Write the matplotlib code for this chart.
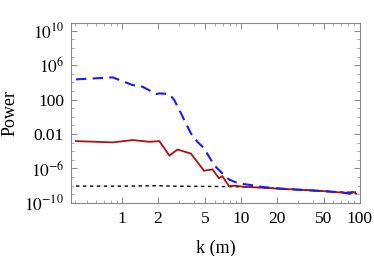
import matplotlib
matplotlib.use("Agg")
import matplotlib.pyplot as plt
import numpy as np
from matplotlib.ticker import FixedLocator, FixedFormatter, NullFormatter

# blue dashed curve
k_blue = [0.407, 0.83, 1.22, 1.48, 1.94, 2.05, 2.49, 2.74, 3.12, 3.43, 3.78,
          4.29, 4.88, 5.38, 5.92, 6.52, 7.18, 7.9, 8.9, 10.5, 12.1, 15, 20,
          30, 50, 70, 82, 87, 93]
logp_blue = [4.35, 4.58, 3.69, 3.49, 2.64, 2.72, 2.64, 1.94, 0.40, -0.77,
             -1.93, -2.91, -3.67, -4.65, -5.62, -6.20, -6.78, -7.28, -7.59,
             -7.83, -7.94, -8.15, -8.33, -8.47, -8.65, -8.80, -8.95, -8.85,
             -9.22]

# red solid curve
k_red = [0.407, 0.83, 1.22, 1.69, 2.05, 2.49, 2.92, 3.78, 4.88, 5.74, 6.52,
         6.96, 7.9, 9.0, 10.5, 15, 20, 30, 50, 70, 80, 87, 93]
logp_red = [-2.83, -2.98, -2.71, -2.91, -2.83, -4.51, -3.81, -4.28, -6.28,
            -6.12, -7.16, -6.90, -8.06, -8.02, -8.14, -8.25, -8.35, -8.48,
            -8.65, -8.82, -8.85, -8.72, -8.95]

# black dotted curve
k_black = [0.407, 1.0, 2.0, 3.0, 5.0, 8.0, 12.0, 20, 30, 50, 70, 87, 93]
logp_black = [-8.06, -8.07, -8.02, -8.08, -8.10, -8.12, -8.17, -8.33, -8.47,
              -8.65, -8.76, -8.80, -8.76]

x_ticks = [1, 2, 5, 10, 20, 50, 100]
x_labels = ["1", "2", "5", "10", "20", "50", "100"]
y_ticks = [1e-10, 1e-6, 1e-2, 1e2, 1e6, 1e10]
y_labels = [r"$10^{-10}$", r"$10^{-6}$", "0.01", "100", r"$10^{6}$", r"$10^{10}$"]

plt.rcParams['font.family'] = ['Liberation Serif', 'DejaVu Serif']
plt.rcParams['mathtext.fontset'] = 'stix'

fig = plt.figure(figsize=(3.74, 2.56), dpi=100)
ax = fig.add_axes([0.19, 0.208, 0.772, 0.703])

ax.plot(k_black, 10.0 ** np.array(logp_black), color='black', lw=1.0,
        linestyle=(0, (2.5, 2.5)))
ax.plot(k_red, 10.0 ** np.array(logp_red), color='#b01010', lw=1.3)
ax.plot(k_blue, 10.0 ** np.array(logp_blue), color='#1a1aff', lw=1.5,
        linestyle=(0, (5, 3)))

ax.set_xscale('log')
ax.set_yscale('log')
ax.set_xlim(0.37, 100)
ax.set_ylim(1e-10, 10 ** 10.93)

ax.xaxis.set_major_locator(FixedLocator(x_ticks))
ax.xaxis.set_major_formatter(FixedFormatter(x_labels))
minor_x = [m * 10.0 ** e for e in (-1, 0, 1) for m in range(1, 10)]
ax.xaxis.set_minor_locator(FixedLocator([v for v in minor_x if v not in x_ticks]))
ax.xaxis.set_minor_formatter(NullFormatter())

ax.yaxis.set_major_locator(FixedLocator(y_ticks))
ax.yaxis.set_major_formatter(FixedFormatter(y_labels))
ax.yaxis.set_minor_locator(FixedLocator([10.0 ** e for e in range(-10, 11)]))
ax.yaxis.set_minor_formatter(NullFormatter())

for s in ax.spines.values():
    s.set_color('#888888')
    s.set_linewidth(0.8)
ax.tick_params(which='both', direction='in', top=True, right=True,
               color='#888888', labelsize=12.5)
ax.tick_params(axis='x', pad=6)
ax.tick_params(axis='y', pad=5)
ax.tick_params(which='major', length=4, width=0.7)
ax.tick_params(which='minor', length=2, width=0.5)

ax.set_xlabel("k (m)", fontsize=13)
ax.set_ylabel("Power", fontsize=13)
ax.xaxis.set_label_coords(0.5, -0.207)
ax.yaxis.set_label_coords(-0.183, 0.501)

fig.savefig("out.png", dpi=100)
